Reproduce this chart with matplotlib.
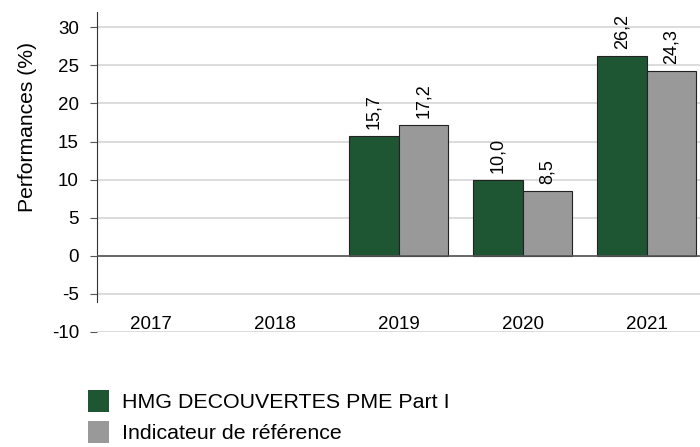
import matplotlib.pyplot as plt
from matplotlib.patches import Patch
import numpy as np

plt.rcParams['font.family'] = ['Liberation Sans', 'DejaVu Sans']
plt.rcParams['axes.unicode_minus'] = False

# donnees
annees = ['2017', '2018', '2019', '2020', '2021']
fonds = [np.nan, np.nan, 15.7, 10.0, 26.2]
indice = [np.nan, np.nan, 17.2, 8.5, 24.3]
noms = ['HMG DECOUVERTES PME Part I', 'Indicateur de référence']

vert = '#1e5532'
gris = '#999999'

fig = plt.figure(figsize=(7, 4.47), dpi=100)
ax = fig.add_axes([97/700, 1 - 332/447, 603/700, 320/447])

x = np.arange(len(annees))
w = 0.4
b1 = ax.bar(x - w/2, fonds, w, color=vert, edgecolor='#222222', linewidth=0.8, zorder=3)
b2 = ax.bar(x + w/2, indice, w, color=gris, edgecolor='#222222', linewidth=0.8, zorder=3)

# etiquettes au-dessus des barres
for barres, vals in ((b1, fonds), (b2, indice)):
    for r, v in zip(barres, vals):
        if np.isnan(v):
            continue
        ax.annotate(f'{v:.1f}'.replace('.', ','),
                    (r.get_x() + r.get_width()/2, r.get_height()),
                    xytext=(0, 5), textcoords='offset points',
                    ha='center', va='bottom', rotation=90, fontsize=13)

ax.set_xlim(-0.435, 4.43)
ax.set_ylim(-10, 32)
ax.set_yticks(range(-10, 31, 5))
ax.grid(axis='y', color='#d9d9d9', linewidth=1.3, zorder=0)
ax.axhline(0, color='#555555', linewidth=1.2, zorder=4)

for s in ('top', 'right', 'bottom'):
    ax.spines[s].set_visible(False)
ax.spines['left'].set_bounds(-6, 32)
ax.spines['left'].set_color('#333333')
ax.tick_params(axis='y', labelsize=13.5, length=5, color='#555555', pad=8)

ax.set_xticks(x)
ax.set_xticklabels(annees)
ax.tick_params(axis='x', length=0, labelsize=13.5, pad=-11.5)

fig.text(27.5/700, 1 - 127.5/447, 'Performances (%)', rotation=90,
         ha='center', va='center', fontsize=15.2)

handles = [Patch(facecolor=vert, edgecolor='none'), Patch(facecolor=gris, edgecolor='none')]
fig.legend(handles, noms, loc='upper left', bbox_to_anchor=(88/700, 1 - 390/447),
           frameon=False, fontsize=15.4, handlelength=1.0, handleheight=1.18,
           handletextpad=0.6, labelspacing=0.42, borderpad=0, borderaxespad=0)

fig.savefig('out.png', dpi=100)
